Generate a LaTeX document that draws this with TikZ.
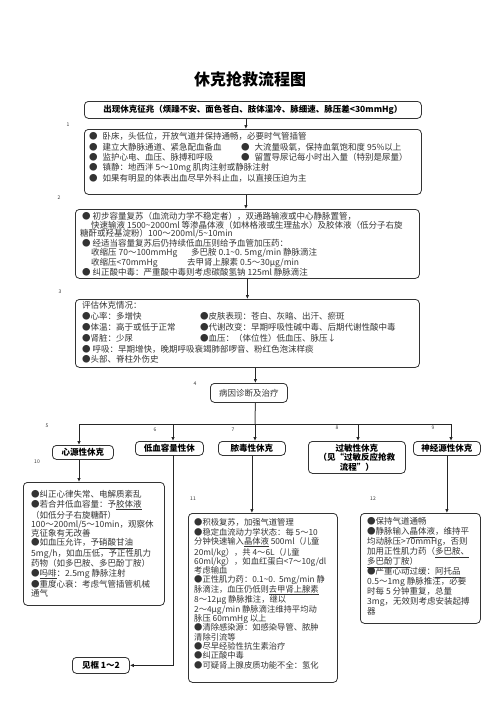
\documentclass[tikz,border=0pt]{standalone}
\usepackage{fontspec}
\setmainfont{Noto Sans CJK SC}
\usetikzlibrary{arrows.meta}

\tikzset{
  panel/.style={draw=black!80, line width=0.8pt, rounded corners=4pt, anchor=north west, inner sep=0pt},
  headbox/.style={panel, font=\bfseries\fontsize{8.5}{9.5}\selectfont, align=center},
  body/.style={anchor=north west, inner sep=0pt, align=left, text=black!80},
  tag/.style={font=\fontsize{5}{6}\selectfont, inner sep=0pt, text=black!80},
  link/.style={-{Latex[length=4pt,width=3.5pt]}, line width=0.8pt, draw=black!85},
}
\newcommand{\tld}{\textasciitilde{}}

\begin{document}
\begin{tikzpicture}[x=1pt, y=-1pt]
  \useasboundingbox (0,0) rectangle (496,702);
  \node[font=\bfseries\fontsize{16}{18}\selectfont] (title) at (250,79) {休克抢救流程图};

  % first steps
  \node[headbox, minimum width=337, minimum height=17] (warn) at (84,101) {出现休克征兆（烦躁不安、面色苍白、肢体湿冷、脉细速、脉压差<30mmHg）};
  \node[panel, minimum width=337, minimum height=65] (first) at (84,129) {};
  \node[body, font=\fontsize{8.5}{10.3}\selectfont] (firsttext) at (89,132.5) {●\hspace{5pt}卧床，头低位，开放气道并保持通畅，必要时气管插管\\
    \makebox[152pt][l]{●\hspace{5pt}建立大静脉通道、紧急配血备血}●\hspace{5pt}大流量吸氧，保持血氧饱和度 95\%以上\\
    \makebox[152pt][l]{●\hspace{5pt}监护心电、血压、脉搏和呼吸}●\hspace{5pt}留置导尿记每小时出入量（特别是尿量）\\
    ●\hspace{5pt}镇静：地西泮 5～10mg 肌肉注射或静脉注射\\
    ●\hspace{5pt}如果有明显的体表出血尽早外科止血，以直接压迫为主};

  \node[panel, minimum width=344, minimum height=69] (second) at (75,209) {};
  \node[body, font=\fontsize{8.5}{8.7}\selectfont] (secondtext) at (80,212) {\hspace*{2pt}●\hspace{2pt}初步容量复苏（血流动力学不稳定者），双通路输液或中心静脉置管，\\
    \hspace*{11pt}快速输液 1500\tld2000ml 等渗晶体液（如林格液或生理盐水）及胶体液（低分子右旋\\
    糖酐或羟基淀粉）100～200ml/5\tld10min\\
    \hspace*{2pt}●\hspace{2pt}经适当容量复苏后仍持续低血压则给予血管加压药：\\
    \hspace*{11pt}\makebox[100pt][l]{收缩压 70～100mmHg}多巴胺 0.1\tld0. 5mg/min 静脉滴注\\
    \hspace*{11pt}\makebox[96pt][l]{收缩压<70mmHg}去甲肾上腺素 0.5～30μg/min\\
    \hspace*{2pt}●\hspace{2pt}纠正酸中毒：严重酸中毒则考虑碳酸氢钠 125ml 静脉滴注};

  \node[panel, minimum width=344, minimum height=68] (third) at (75,299) {};
  \node[body, font=\fontsize{8.5}{10.8}\selectfont] (thirdtext) at (82,301.5) {评估休克情况：\\
    \makebox[118pt][l]{●心率：多增快}●皮肤表现：苍白、灰暗、出汗、瘀斑\\
    \makebox[118pt][l]{●体温：高于或低于正常}●代谢改变：早期呼吸性碱中毒、后期代谢性酸中毒\\
    \makebox[118pt][l]{●肾脏：少尿}●血压：（体位性）低血压、脉压↓\\
    ● 呼吸：早期增快，晚期呼吸衰竭肺部啰音、粉红色泡沫样痰\\
    ●头部、脊柱外伤史};

  \node[panel, minimum width=77, minimum height=19, font=\fontsize{8.5}{10}\selectfont, text=black!80] (cause) at (210,383) {病因诊断及治疗};

  \node[tag] (n1) at (68,125) {1};
  \node[tag] (n2) at (59,198) {2};
  \node[tag] (n3) at (60,292) {3};
  \node[tag] (n4) at (195,384) {4};

  \draw[link] ([xshift=-7]warn.south) -- ([xshift=-7]warn.south |- first.north);
  \draw[link] ([xshift=-7]first.south) -- ([xshift=-7]first.south |- second.north);
  \draw[link] (second.south) -- (third.north);
  \draw[link] ([xshift=8]third.south) -- ([xshift=8]third.south |- cause.north);

  % shock types
  \node[headbox, minimum width=61, minimum height=14] (cardio) at (52,445) {心源性休克};
  \node[headbox, minimum width=68, minimum height=14] (hypo) at (135,441) {低血容量性休};
  \node[headbox, minimum width=67, minimum height=14] (sepsis) at (218,441) {脓毒性休克};
  \node[headbox, minimum width=97, minimum height=32] (allergy) at (308,441) {过敏性休克\\（见“过敏反应抢救\\流程”）};
  \node[headbox, minimum width=67, minimum height=14] (neuro) at (413,441) {神经源性休克};

  \coordinate (split) at (255,424);
  \coordinate (hl) at (79,424);
  \coordinate (hr) at (451,424);
  \draw[line width=1pt, draw=black!70] ([xshift=8]third.south |- cause.south) -- (split);
  \draw[line width=0.8pt, draw=black!85] (hl) -- (hr);
  \draw[link] (hl) -- (hl |- cardio.north);
  \draw[link] (173,424) -- (173,441);
  \draw[link] (split) -- (split |- sepsis.north);
  \draw[link] (358,424) -- (358,441);
  \draw[link] (hr) -- (hr |- neuro.north);

  \node[tag] (n5) at (47,426) {5};
  \node[tag] (n6) at (155,430) {6};
  \node[tag] (n7) at (233,430) {7};
  \node[tag] (n8) at (337,428) {8};
  \node[tag] (n9) at (433,428) {9};
  \node[tag] (n10) at (37,462) {10};
  \node[tag] (n11) at (193,499) {11};
  \node[tag] (n12) at (373,499) {12};

  % treatment
  \node[panel, minimum width=141, minimum height=123] (cardiobox) at (23,482) {};
  \node[body, font=\fontsize{8.5}{9.2}\selectfont] (cardiotext) at (31,490.5) {●纠正心律失常、电解质紊乱\\
    ●若合并低血容量：予\underline{胶体液}\\
    （如低分子右旋糖酐）\\
    100～200ml/5～10min，观察休\\
    克征象有无改善\\
    ●如血压允许，予\underline{硝酸甘油}\\
    5mg/h，如血压低，予正性肌力\\
    药物（如多巴胺、多巴酚丁胺）\\
    ●\underline{吗啡}：2.5mg 静脉注射\\
    ●重度心衰：考虑气管插管机械\\
    通气};

  \node[panel, minimum width=149, minimum height=169] (sepsisbox) at (188,513) {};
  \node[body, font=\fontsize{8.3}{9.3}\selectfont] (sepsistext) at (194,518.5) {●积极复苏，加强气道管理\\
    ●稳定血流动力学状态：每 5～10\\
    分钟快速输入\underline{晶体液} 500ml（儿童\\
    20ml/kg），共 4～6L（儿童\\
    60ml/kg），如血红蛋白<7～10g/dl\\
    考虑输血\\
    ●正性肌力药：0.1\tld0.\ \ 5mg/min 静\\
    脉滴注，血压仍低则\underline{去甲肾上腺素}\\
    8～12μg 静脉推注，继以\\
    2～4μg/min 静脉滴注维持平均动\\
    脉压 60mmHg 以上\\
    ●清除感染源：如感染导管、脓肿\\
    清除引流等\\
    ●尽早经验性抗生素治疗\\
    ●纠正酸中毒\\
    ●可疑肾上腺皮质功能不全：氢化};

  \node[panel, minimum width=120, minimum height=110] (neurobox) at (360,513) {};
  \node[body, font=\fontsize{8.5}{10}\selectfont] (neurotext) at (367,517.5) {●保持气道通畅\\
    ●静脉输入\underline{晶体液}，维持平\\
    均动脉压>70mmHg，否则\\
    加用正性肌力药（\underline{多巴胺、}\\
    \underline{多巴酚丁胺}）\\
    ●严重心动过缓：\underline{阿托品}\\
    0.5～1mg 静脉推注，必要\\
    时每 5 分钟重复，总量\\
    3mg，无效则考虑安装起搏\\
    器};

  \node[headbox, minimum width=57, minimum height=16] (refer) at (72,657) {见框 1～2};

  \draw[link] (hl |- cardio.south) -- (hl |- cardiobox.north);
  \draw[link] (sepsis.south) -- (sepsis.south |- sepsisbox.north);
  \draw[link] (neuro.south) -- (neuro.south |- neurobox.north);
  \draw[link] (173,455) |- (refer.east);
\end{tikzpicture}
\end{document}
